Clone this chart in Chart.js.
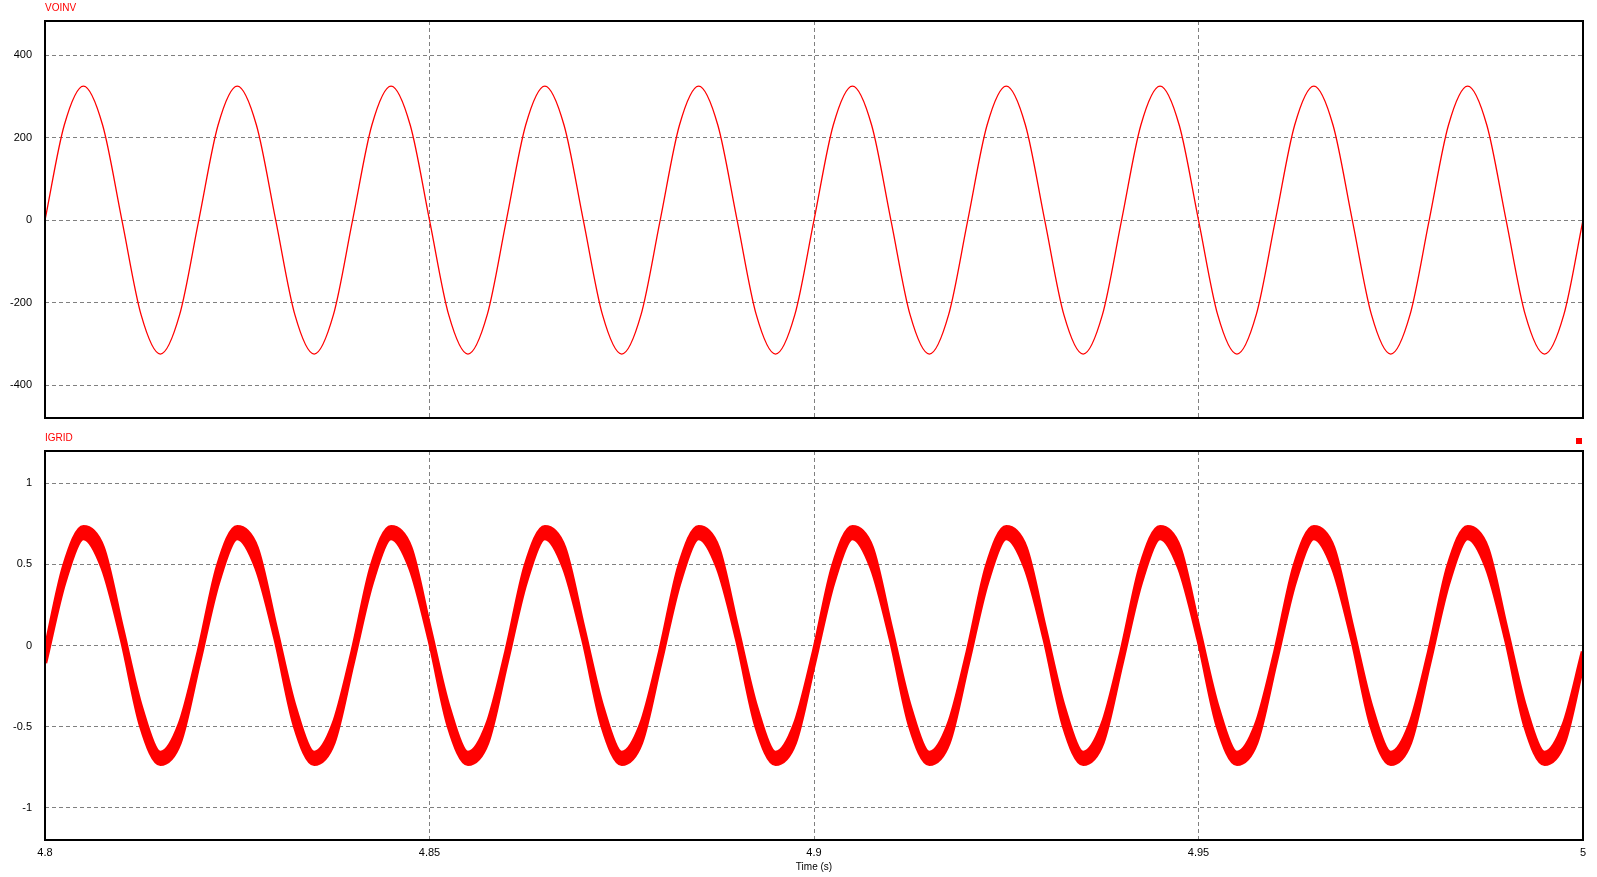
<!DOCTYPE html>
<html>
<head>
<meta charset="utf-8">
<title>VOINV / IGRID</title>
<script src="https://cdn.jsdelivr.net/npm/chart.js@4/dist/chart.umd.min.js"></script>
<style>
    body { margin: 0; background: #fff; }
    #wrap { position: relative; width: 1597px; height: 877px; background: #fff; }
    canvas { position: absolute; left: 0; }
    #cv { top: 0; }
    #ci { top: 425px; }
</style>
</head>
<body>
<div id="wrap">
    <canvas id="ci" width="1597" height="452"></canvas>
    <canvas id="cv" width="1597" height="438"></canvas>
</div>
<script>
// sample times (s), one row per 50 Hz cycle
const timeS = [
    4.8, 4.8025, 4.805, 4.8075, 4.81, 4.8125, 4.815, 4.8175,
    4.82, 4.8225, 4.825, 4.8275, 4.83, 4.8325, 4.835, 4.8375,
    4.84, 4.8425, 4.845, 4.8475, 4.85, 4.8525, 4.855, 4.8575,
    4.86, 4.8625, 4.865, 4.8675, 4.87, 4.8725, 4.875, 4.8775,
    4.88, 4.8825, 4.885, 4.8875, 4.89, 4.8925, 4.895, 4.8975,
    4.9, 4.9025, 4.905, 4.9075, 4.91, 4.9125, 4.915, 4.9175,
    4.92, 4.9225, 4.925, 4.9275, 4.93, 4.9325, 4.935, 4.9375,
    4.94, 4.9425, 4.945, 4.9475, 4.95, 4.9525, 4.955, 4.9575,
    4.96, 4.9625, 4.965, 4.9675, 4.97, 4.9725, 4.975, 4.9775,
    4.98, 4.9825, 4.985, 4.9875, 4.99, 4.9925, 4.995, 4.9975,
    5.0
];

// inverter output voltage (V)
const voinvV = [
    0, 230, 325, 230, 0, -230, -325, -230,
    0, 230, 325, 230, 0, -230, -325, -230,
    0, 230, 325, 230, 0, -230, -325, -230,
    0, 230, 325, 230, 0, -230, -325, -230,
    0, 230, 325, 230, 0, -230, -325, -230,
    0, 230, 325, 230, 0, -230, -325, -230,
    0, 230, 325, 230, 0, -230, -325, -230,
    0, 230, 325, 230, 0, -230, -325, -230,
    0, 230, 325, 230, 0, -230, -325, -230,
    0, 230, 325, 230, 0, -230, -325, -230,
    0
];

// grid current ripple band (A): upper and lower edge
// (band is a little wider on the flanks than at the peaks)
const igridUpperA = [
    -0.038, 0.49, 0.73, 0.605, 0.108, -0.385, -0.664, -0.49,
    -0.038, 0.49, 0.73, 0.605, 0.108, -0.385, -0.664, -0.49,
    -0.038, 0.49, 0.73, 0.605, 0.108, -0.385, -0.664, -0.49,
    -0.038, 0.49, 0.73, 0.605, 0.108, -0.385, -0.664, -0.49,
    -0.038, 0.49, 0.73, 0.605, 0.108, -0.385, -0.664, -0.49,
    -0.038, 0.49, 0.73, 0.605, 0.108, -0.385, -0.664, -0.49,
    -0.038, 0.49, 0.73, 0.605, 0.108, -0.385, -0.664, -0.49,
    -0.038, 0.49, 0.73, 0.605, 0.108, -0.385, -0.664, -0.49,
    -0.038, 0.49, 0.73, 0.605, 0.108, -0.385, -0.664, -0.49,
    -0.038, 0.49, 0.73, 0.605, 0.108, -0.385, -0.664, -0.49,
    -0.038
];
const igridLowerA = [
    -0.108, 0.39, 0.664, 0.48, 0.038, -0.495, -0.73, -0.60,
    -0.108, 0.39, 0.664, 0.48, 0.038, -0.495, -0.73, -0.60,
    -0.108, 0.39, 0.664, 0.48, 0.038, -0.495, -0.73, -0.60,
    -0.108, 0.39, 0.664, 0.48, 0.038, -0.495, -0.73, -0.60,
    -0.108, 0.39, 0.664, 0.48, 0.038, -0.495, -0.73, -0.60,
    -0.108, 0.39, 0.664, 0.48, 0.038, -0.495, -0.73, -0.60,
    -0.108, 0.39, 0.664, 0.48, 0.038, -0.495, -0.73, -0.60,
    -0.108, 0.39, 0.664, 0.48, 0.038, -0.495, -0.73, -0.60,
    -0.108, 0.39, 0.664, 0.48, 0.038, -0.495, -0.73, -0.60,
    -0.108, 0.39, 0.664, 0.48, 0.038, -0.495, -0.73, -0.60,
    -0.108
];

const timeTicks = [4.8, 4.85, 4.9, 4.95, 5];
const voinvTicks = [-400, -200, 0, 200, 400];
const igridTicks = [-1, -0.5, 0, 0.5, 1];

const RED = '#ff0000';
const FONT = 'Liberation Sans, Arial, sans-serif';

function points(ys) {
    return timeS.map((t, i) => ({ x: t, y: ys[i] }));
}

// black frame round the plot, red trace name above it
function framePlugin(name, marker) {
    return {
        id: 'frame',
        afterDatasetsDraw(chart) {
            const a = chart.chartArea;
            const ctx = chart.ctx;
            ctx.save();
            ctx.strokeStyle = '#000';
            ctx.lineWidth = 2;
            ctx.strokeRect(a.left, a.top, a.right - a.left, a.bottom - a.top);
            ctx.fillStyle = RED;
            ctx.font = '10px ' + FONT;
            ctx.textBaseline = 'middle';
            ctx.textAlign = 'left';
            ctx.fillText(name, a.left, a.top - 13);
            if (marker) {
                ctx.fillRect(a.right - 7, a.top - 13, 6, 6);
            }
            ctx.restore();
        }
    };
}

function xScale(showLabels) {
    return {
        type: 'linear',
        min: 4.8,
        max: 5.0,
        afterBuildTicks: (axis) => { axis.ticks = timeTicks.map(v => ({ value: v })); },
        afterFit: (axis) => { axis.height = showLabels ? 37 : 0; },
        grid: {
            drawTicks: false,
            lineWidth: 1,
            color: (c) => (c.index === 0 || c.index === timeTicks.length - 1) ? 'rgba(0,0,0,0)' : '#808080'
        },
        border: { display: false, dash: [4, 3] },
        ticks: {
            display: showLabels,
            padding: 6,
            color: '#000',
            font: { family: FONT, size: 11 },
            maxRotation: 0,
            callback: (v) => String(v)
        },
        title: {
            display: showLabels,
            text: 'Time (s)',
            color: '#000',
            font: { family: FONT, size: 10 },
            padding: { top: 0, bottom: 4 }
        }
    };
}

function yScale(min, max, ticks) {
    return {
        min: min,
        max: max,
        afterBuildTicks: (axis) => { axis.ticks = ticks.map(v => ({ value: v })); },
        afterFit: (axis) => { axis.width = 45; },
        grid: { drawTicks: false, lineWidth: 1, color: '#808080' },
        border: { display: false, dash: [4, 3] },
        ticks: {
            padding: 13,
            color: '#000',
            font: { family: FONT, size: 11 },
            callback: (v) => String(v)
        }
    };
}

const common = {
    responsive: false,
    animation: false,
    events: [],
    plugins: { legend: { display: false }, tooltip: { enabled: false } }
};

// top panel: VOINV
new Chart(document.getElementById('cv').getContext('2d'), {
    type: 'line',
    data: {
        datasets: [{
            data: points(voinvV),
            borderColor: RED,
            borderWidth: 1.3,
            pointRadius: 0,
            cubicInterpolationMode: 'monotone',
            clip: 0
        }]
    },
    options: Object.assign({}, common, {
        // the y labels ask for ~20px below the plot, so the canvas runs past the frame
        layout: { padding: { top: 21, right: 14, bottom: 20, left: 0 } },
        scales: { x: xScale(false), y: yScale(-480, 483, voinvTicks) }
    }),
    plugins: [framePlugin('VOINV', false)]
});

// bottom panel: IGRID, drawn as a filled ripple band
new Chart(document.getElementById('ci').getContext('2d'), {
    type: 'line',
    data: {
        datasets: [{
            data: points(igridUpperA),
            borderColor: RED,
            borderWidth: 4.5,
            pointRadius: 0,
            cubicInterpolationMode: 'monotone',
            fill: false,
            clip: 0
        }, {
            data: points(igridLowerA),
            borderColor: RED,
            backgroundColor: RED,
            borderWidth: 4.5,
            pointRadius: 0,
            cubicInterpolationMode: 'monotone',
            fill: '-1',
            clip: 0
        }]
    },
    options: Object.assign({}, common, {
        layout: { padding: { top: 26, right: 14, bottom: 0, left: 0 } },
        scales: { x: xScale(true), y: yScale(-1.2, 1.2, igridTicks) }
    }),
    plugins: [framePlugin('IGRID', true)]
});
</script>
</body>
</html>
